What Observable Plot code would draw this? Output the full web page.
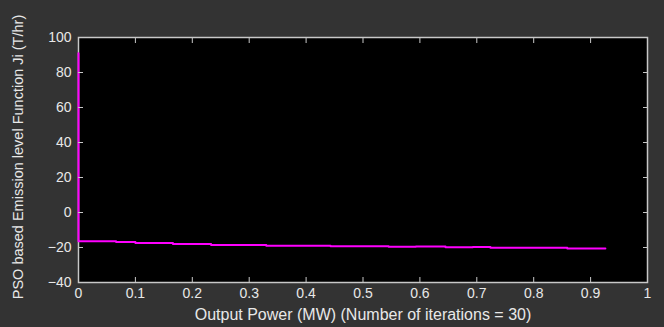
<!DOCTYPE html>
<html><head><meta charset="utf-8">
<script src="https://cdn.jsdelivr.net/npm/d3@7"></script>
<script src="https://cdn.jsdelivr.net/npm/@observablehq/plot@0.6"></script>
<style>
html,body{margin:0;padding:0;background:#333333;}
#chart{width:664px;height:327px;}
</style></head><body><div id="chart"></div>
<script>
const outputPower = [0, 0, 0.066, 0.100, 0.166, 0.233, 0.330, 0.443, 0.545, 0.593, 0.645, 0.693, 0.724, 0.800, 0.859, 0.926];
const emission    = [91, -16.4, -16.8, -17.4, -18.0, -18.5, -19.0, -19.3, -19.5, -19.4, -19.9, -19.7, -20.1, -20.2, -20.6, -20.6];
const xTicks = [0, 0.1, 0.2, 0.3, 0.4, 0.5, 0.6, 0.7, 0.8, 0.9, 1];
const yTicks = [-40, -20, 0, 20, 40, 60, 80, 100];
const xLabel = "Output Power (MW) (Number of iterations = 30)";
const yLabel = "PSO based Emission level Function Ji (T/hr)";

const data = outputPower.map((x, i) => ({x, y: emission[i]}));
const txt = "#e8e8e8", box = "#c8c8c8";

const chart = Plot.plot({
  width: 664, height: 327,
  marginLeft: 78, marginRight: 17, marginTop: 37, marginBottom: 45,
  style: {background: "#333333", color: txt, fontFamily: "Liberation Sans, Arial, sans-serif", fontSize: "14px"},
  x: {domain: [0, 1]},
  y: {domain: [-40, 100]},
  marks: [
    Plot.frame({fill: "black", stroke: null}),
    Plot.frame({stroke: box, strokeWidth: 1.5}),
    Plot.line(data, {x: "x", y: "y", stroke: "#ff00ff", strokeWidth: 2, curve: "step-after"}),
    Plot.axisX({anchor: "bottom", ticks: xTicks, tickSize: 0, tickPadding: 6, tickFormat: d => String(d), fill: txt, fontSize: 14, label: null}),
    Plot.axisX({anchor: "bottom", ticks: xTicks, tickSize: 5, dy: -5, text: null, stroke: box, label: null}),
    Plot.axisX({anchor: "top", ticks: xTicks, tickSize: 5, dy: 5, text: null, stroke: box, label: null}),
    Plot.axisY({anchor: "left", ticks: yTicks, tickSize: 0, tickPadding: 7, fill: txt, fontSize: 14, label: null}),
    Plot.axisY({anchor: "left", ticks: yTicks, tickSize: 5, dx: 5, text: null, stroke: box, label: null}),
    Plot.axisY({anchor: "right", ticks: yTicks, tickSize: 5, dx: -5, text: null, stroke: box, label: null}),
    Plot.text([xLabel], {frameAnchor: "bottom", dy: 32, textAnchor: "middle", lineAnchor: "middle", fill: txt, fontSize: 16}),
    Plot.text([yLabel], {frameAnchor: "left", dx: -60, dy: -3, rotate: -90, textAnchor: "middle", lineAnchor: "middle", fill: txt, fontSize: 14.5})
  ]
});
document.getElementById("chart").appendChild(chart);
</script></body></html>
